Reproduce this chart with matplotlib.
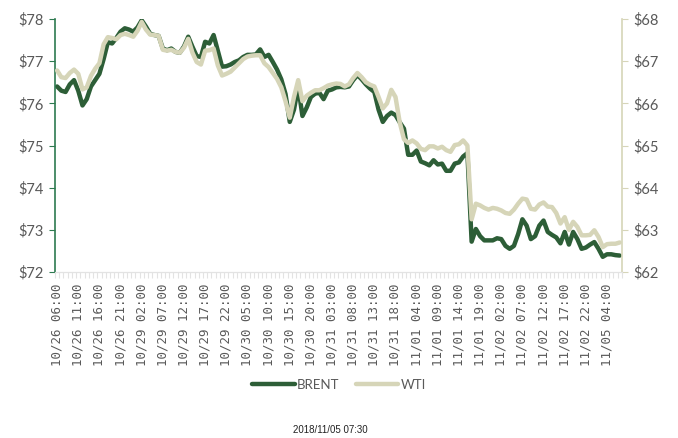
import numpy as np
import matplotlib.pyplot as plt
from matplotlib.ticker import FuncFormatter, FixedLocator

# category labels, one every 5 hourly points
tick_labels = ['10/26 06:00', '10/26 11:00', '10/26 16:00', '10/26 21:00',
               '10/29 02:00', '10/29 07:00', '10/29 12:00', '10/29 17:00',
               '10/29 22:00', '10/30 05:00', '10/30 10:00', '10/30 15:00',
               '10/30 20:00', '10/31 03:00', '10/31 08:00', '10/31 13:00',
               '10/31 18:00', '11/01 04:00', '11/01 09:00', '11/01 14:00',
               '11/01 19:00', '11/02 02:00', '11/02 07:00', '11/02 12:00',
               '11/02 17:00', '11/02 22:00', '11/05 04:00']

brent = [76.40, 76.30, 76.27, 76.45, 76.55, 76.30, 75.95, 76.10, 76.40, 76.55,
         76.70, 77.05, 77.45, 77.42, 77.55, 77.70, 77.78, 77.75, 77.70, 77.80,
         77.97, 77.82, 77.65, 77.62, 77.60, 77.30, 77.26, 77.30, 77.22, 77.20,
         77.35, 77.58, 77.34, 77.12, 77.10, 77.46, 77.42, 77.62, 77.25, 76.87,
         76.88, 76.92, 76.98, 77.02, 77.10, 77.15, 77.15, 77.16, 77.28, 77.10,
         77.15, 76.98, 76.80, 76.57, 76.22, 75.56, 75.85, 76.40, 75.70, 75.90,
         76.15, 76.23, 76.25, 76.10, 76.30, 76.33, 76.38, 76.39, 76.38, 76.40,
         76.55, 76.67, 76.57, 76.45, 76.35, 76.27, 75.85, 75.56, 75.70, 75.78,
         75.72, 75.55, 75.40, 74.78, 74.78, 74.88, 74.62, 74.58, 74.53, 74.65,
         74.55, 74.57, 74.40, 74.40, 74.57, 74.60, 74.74, 74.82, 72.72, 73.02,
         72.85, 72.75, 72.75, 72.75, 72.80, 72.78, 72.62, 72.55, 72.62, 72.90,
         73.25, 73.10, 72.78, 72.85, 73.10, 73.22, 72.95, 72.88, 72.82, 72.68,
         72.95, 72.65, 72.95, 72.78, 72.55, 72.58, 72.65, 72.71, 72.55, 72.36,
         72.42, 72.42, 72.40, 72.39]

wti = [66.78, 66.62, 66.60, 66.72, 66.80, 66.70, 66.33, 66.38, 66.65, 66.82,
       66.95, 67.40, 67.57, 67.55, 67.52, 67.62, 67.65, 67.62, 67.58, 67.72,
       67.93, 67.75, 67.63, 67.62, 67.60, 67.27, 67.25, 67.27, 67.22, 67.20,
       67.32, 67.53, 67.20, 66.98, 66.92, 67.25, 67.26, 67.30, 66.90, 66.66,
       66.70, 66.75, 66.85, 66.95, 67.05, 67.11, 67.13, 67.14, 67.14, 66.95,
       66.86, 66.72, 66.58, 66.38, 66.05, 65.66, 66.15, 66.55, 66.05, 66.18,
       66.25, 66.31, 66.31, 66.36, 66.42, 66.45, 66.47, 66.46, 66.40, 66.45,
       66.60, 66.72, 66.62, 66.50, 66.44, 66.40, 66.15, 65.88, 66.00, 66.32,
       66.15, 65.55, 65.15, 65.06, 65.12, 65.05, 64.92, 64.89, 64.98, 64.98,
       64.93, 64.97, 64.89, 64.85, 65.01, 65.03, 65.12, 65.00, 63.25, 63.62,
       63.58, 63.52, 63.48, 63.52, 63.50, 63.46, 63.40, 63.38, 63.48, 63.62,
       63.74, 63.72, 63.50, 63.48, 63.60, 63.65, 63.55, 63.54, 63.40, 63.15,
       63.30, 63.00, 63.19, 63.07, 62.87, 62.87, 62.88, 62.99, 62.83, 62.59,
       62.66, 62.67, 62.67, 62.70]

brent_color = '#2d5e37'
wti_color = '#d6d5b8'
text_color = '#595959'

fig = plt.figure(figsize=(6.78, 4.38), dpi=100)
ax = fig.add_axes([0.0811, 0.379, 0.836, 0.5776])
ax2 = ax.twinx()

x = np.arange(len(brent))
ax.plot(x, brent, color=brent_color, lw=3.2, solid_joinstyle='round',
        solid_capstyle='round', label='BRENT')
ax2.plot(x, wti, color=wti_color, lw=3.2, solid_joinstyle='round',
         solid_capstyle='round', label='WTI')

ax.set_xlim(-0.5, len(brent) - 0.5)
ax.set_ylim(72, 78)
ax2.set_ylim(62, 68)
ax.set_yticks(range(72, 79))
ax2.set_yticks(range(62, 69))
money = FuncFormatter(lambda v, p: '$%d' % v)
ax.yaxis.set_major_formatter(money)
ax2.yaxis.set_major_formatter(money)

# x axis: label every 5 points, small ticks between categories
ax.set_xticks(np.arange(0, len(brent), 5))
ax.set_xticklabels(tick_labels, rotation=90, fontsize=9, color=text_color,
                   family='DejaVu Sans Mono')
ax.xaxis.set_minor_locator(FixedLocator(np.arange(-0.5, len(brent), 1)))
ax.tick_params(axis='x', which='major', length=0, pad=8)
ax.tick_params(axis='x', which='minor', length=4, color='#e3e3e3', width=0.8)

for a in (ax, ax2):
    a.spines['top'].set_visible(False)
    a.spines['bottom'].set_color('#e3e3e3')
ax.spines['right'].set_visible(False)
ax2.spines['left'].set_visible(False)
ax.spines['left'].set_color('#2e7a50')
ax.spines['left'].set_linewidth(1.2)
ax2.spines['right'].set_color(wti_color)
ax2.spines['right'].set_linewidth(1.2)

ax.tick_params(axis='y', length=4, color='#2e7a50', labelsize=10.5,
               labelcolor=text_color, pad=4)
ax2.tick_params(axis='y', length=4, color=wti_color, labelsize=10.5,
                labelcolor=text_color, pad=4)
for lbl in ax.get_yticklabels() + ax2.get_yticklabels():
    lbl.set_family('Lato')

h1, l1 = ax.get_legend_handles_labels()
h2, l2 = ax2.get_legend_handles_labels()
leg = fig.legend(h1 + h2, l1 + l2, loc='center', bbox_to_anchor=(0.5, 0.121),
                 ncol=2, frameon=False, handlelength=3.2, columnspacing=1.2,
                 handletextpad=0.2, prop={'family': 'Lato', 'size': 9.5})
for t in leg.get_texts():
    t.set_color(text_color)

fig.text(0.487, 0.018, '2018/11/05 07:30', ha='center', va='center',
         fontsize=7, color='#222222', family='Liberation Sans')

fig.savefig('out.png', dpi=100)
